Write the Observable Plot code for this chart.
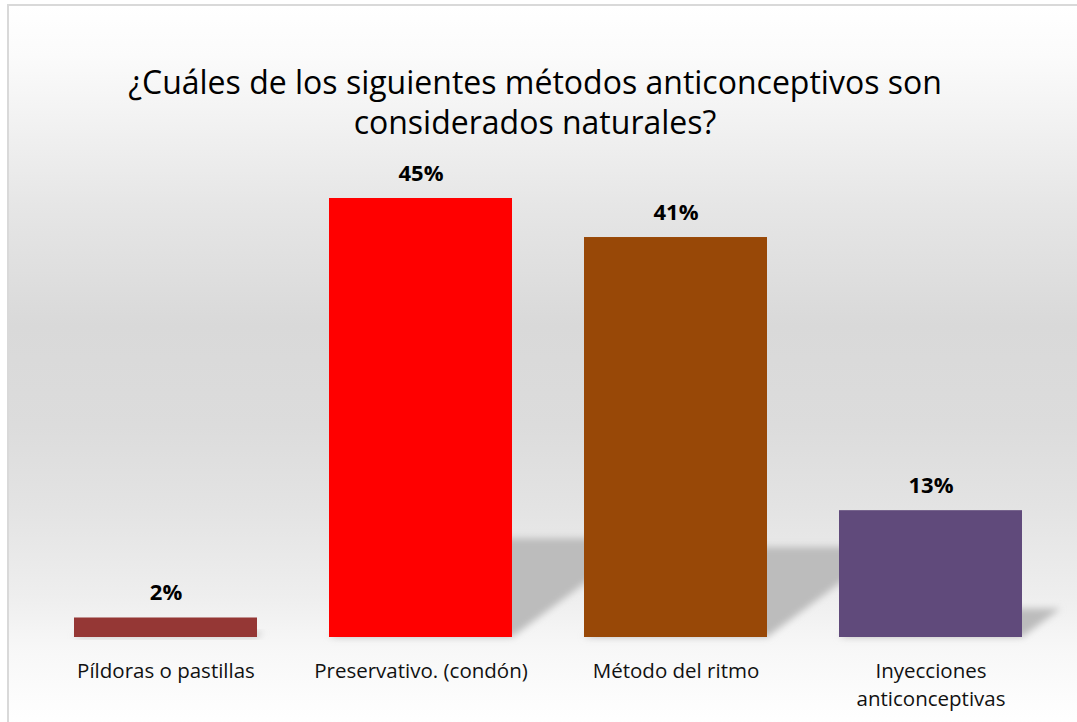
<!DOCTYPE html>
<html>
<head>
<meta charset="utf-8">
<script src="https://cdn.jsdelivr.net/npm/d3@7"></script>
<script src="https://cdn.jsdelivr.net/npm/@observablehq/plot@0.6"></script>
<style>
  html, body { margin: 0; padding: 0; background: #ffffff; }
  #wrap { position: relative; width: 1077px; height: 722px; overflow: hidden; background: #ffffff; }
  #frame {
    position: absolute; left: 7px; top: 4px; width: 1080px; height: 730px;
    border-left: 2px solid #d9d9d9; border-top: 2px solid #d9d9d9;
    background: linear-gradient(to bottom, #ffffff 0px, #fbfbfb 50px, #e6e6e6 200px, #d9d9d9 320px, #dcdcdc 420px, #e3e3e3 500px, #eeeeee 590px, #f7f7f7 640px, #fcfcfc 690px, #ffffff 722px);
  }
  #title {
    position: absolute; left: 0; top: 62px; width: 1070px; text-align: center;
    font-family: "Open Sans", sans-serif; font-size: 32px; line-height: 40px; color: #000;
  }
  #chart { position: absolute; left: 0; top: 150px; }
</style>
</head>
<body>
<div id="wrap">
  <div id="frame"></div>
  <div id="title">¿Cuáles de los siguientes métodos anticonceptivos son<br>considerados naturales?</div>
  <div id="chart"></div>
</div>
<script>
const categories = ["Píldoras o pastillas", "Preservativo. (condón)", "Método del ritmo", "Inyecciones anticonceptivas"];
const tickLabels = ["Píldoras o pastillas", "Preservativo. (condón)", "Método del ritmo", "Inyecciones\nanticonceptivas"];
const percents = [2, 45, 41, 13];
const barColors = ["#953735", "#ff0000", "#984807", "#604a7b"];

const rows = categories.map((c, i) => ({cat: c, label: tickLabels[i], value: percents[i], color: barColors[i]}));

function shadowMark(index, scales) {
  const x = scales.x, y = scales.y;
  const bw = typeof x.bandwidth === "function" ? x.bandwidth() : x.bandwidth;
  const g = d3.create("svg:g");
  const f = g.append("defs").append("filter").attr("id", "barShadowBlur")
    .attr("x", "-30%").attr("y", "-60%").attr("width", "160%").attr("height", "220%");
  f.append("feGaussianBlur").attr("stdDeviation", 3.5);
  rows.forEach(r => {
    const x0 = x(r.cat), x1 = x0 + bw, yb = y(0);
    const h = yb - y(r.value);
    const hs = 0.225 * h, s = 1.35 * hs;
    g.append("path")
      .attr("d", `M${x0},${yb}L${x1},${yb}L${x1 + s},${yb - hs}L${x0 + s},${yb - hs}Z`)
      .attr("fill", "#bcbcbc")
      .attr("filter", "url(#barShadowBlur)");
  });
  return g.node();
}

const chart = Plot.plot({
  width: 1077,
  height: 572,
  marginLeft: 37,
  marginRight: 19,
  marginTop: 48,
  marginBottom: 85,
  style: { background: "transparent", fontFamily: "'Open Sans', sans-serif", overflow: "visible" },
  x: { domain: categories, paddingInner: 0.284, paddingOuter: 0.142, axis: null },
  y: { domain: [0, 45], axis: null },
  marks: [
    shadowMark,
    Plot.barY(rows, { x: "cat", y: "value", fill: "color" }),
    Plot.text(rows, {
      x: "cat", y: "value", text: d => d.value + "%",
      lineAnchor: "bottom", dy: -18, fontSize: 22, fontWeight: "bold", fill: "#000"
    }),
    Plot.text(rows, {
      x: "cat", y: () => 0, text: "label",
      lineAnchor: "top", dy: 21, fontSize: 20.5, lineHeight: 1.35, fill: "#111"
    })
  ]
});
document.getElementById("chart").appendChild(chart);
</script>
</body>
</html>
